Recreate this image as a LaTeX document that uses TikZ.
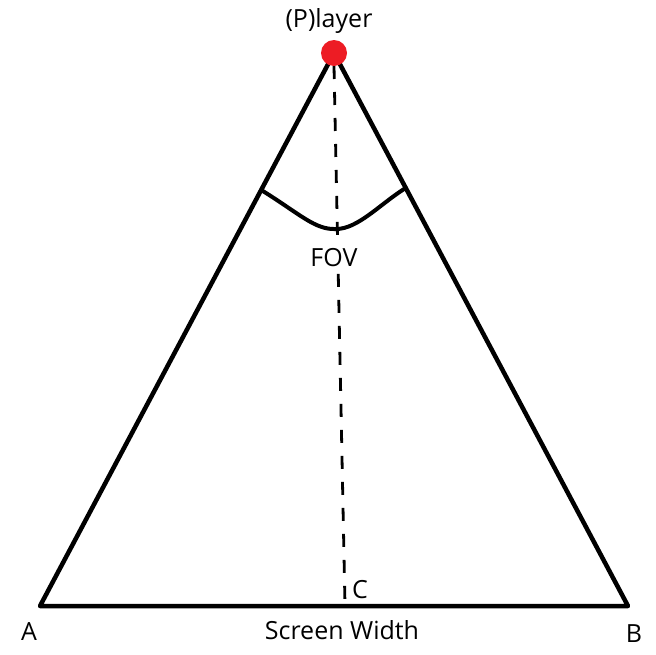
\documentclass[tikz,border=0pt]{standalone}
\usepackage{fontspec}
\setmainfont{Open Sans}
\usetikzlibrary{calc}
\definecolor{dotred}{RGB}{237,28,36}
\begin{document}
\begin{tikzpicture}[x=1pt,y=-1pt,
  edge/.style={line width=4.5pt,line cap=round,line join=round},
  dashline/.style={line width=2.8pt,dash pattern=on 13pt off 13pt},
  lbl/.style={font=\fontsize{25}{28}\selectfont,inner sep=0pt}]
\useasboundingbox (0,0) rectangle (656,654);
\coordinate (P) at (334,53);
\coordinate (A) at (40,606);
\coordinate (B) at (628,606);
\coordinate (C) at (345,605);
\coordinate (F1) at ($(P)!0.2477!(A)$);
\coordinate (F2) at ($(P)!0.244!(B)$);
\coordinate (FM) at (336,229);
\draw[edge] (A) -- (P) -- (B) -- cycle;
\draw[dashline] (334,66) -- (C);
\draw[line width=4pt,line cap=round] (F1) .. controls (300,214) and (315,230) .. (FM) .. controls (358,229) and (380,204) .. (F2);
\fill[dotred] (P) circle (13);
\node[lbl] (pl) at (329,21) {(P)layer};
\node[lbl,fill=white,inner sep=4pt] (fov) at (334,258) {FOV};
\node[lbl] (c) at (360,590) {C};
\node[lbl] (a) at (29,632) {A};
\node[lbl] (b) at (634,634) {B};
\node[lbl] (sw) at (342,630) {Screen Width};
\end{tikzpicture}
\end{document}
